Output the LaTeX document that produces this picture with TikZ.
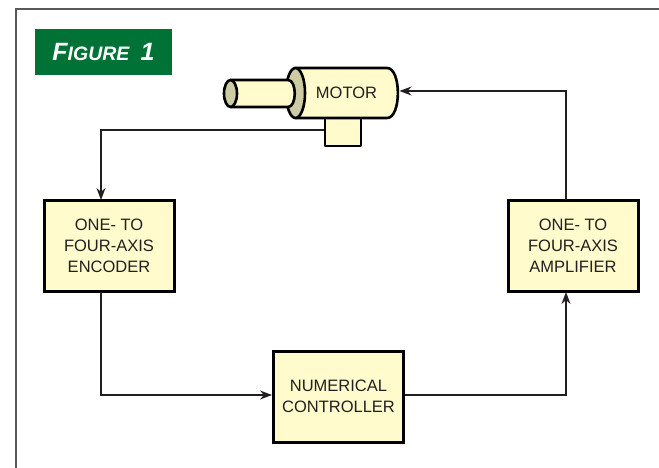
\documentclass[tikz,border=0pt]{standalone}
\usepackage{fontspec}
\setmainfont{Liberation Sans}
\usetikzlibrary{arrows.meta}
\definecolor{fillY}{HTML}{FFFBCC}
\definecolor{capC}{HTML}{CCCBA3}
\definecolor{grn}{HTML}{007236}
\definecolor{ink}{HTML}{231F20}
\tikzset{
  x=1pt,y=-1pt,
  blockbox/.style={draw=black,line width=3pt,fill=fillY,minimum width=130pt,minimum height=90pt,align=center,inner sep=0pt,font=\fontsize{16.5}{21}\selectfont,text=ink},
  part/.style={draw=black,line width=2.6pt,fill=fillY,line join=round},
  capp/.style={draw=black,line width=2.6pt,fill=capC},
  conn/.style={draw=ink,line width=1.3pt,-{Stealth[length=12pt,width=9pt]}}
}
\begin{document}
\begin{tikzpicture}
\useasboundingbox (0,0) rectangle (659,468);
\draw[line width=1.6pt,draw=black!65] (16,468) -- (16,9) -- (659,9);
\node[fill=grn,minimum width=137pt,minimum height=46pt,inner sep=0pt,text=white] (fig) at (103.5,52) {\fontsize{25}{25}\selectfont\bfseries\itshape F\fontsize{19.5}{25}\selectfont IGURE\fontsize{25}{25}\selectfont\ \,1};
% motor
\node[part,minimum width=36pt,minimum height=28pt,inner sep=0pt] (sensor) at (343,132) {};
\draw[part] (296,68) -- (387,68) .. controls (401.5,68) and (401.5,118) .. (387,118) -- (296,118) -- cycle;
\draw[capp] (295.5,93) ellipse[x radius=9.5,y radius=25];
\draw[part] (231,80) -- (288,80) .. controls (297,80) and (297,107) .. (288,107) -- (231,107) -- cycle;
\draw[capp] (230.5,93.5) ellipse[x radius=6.5,y radius=13.5];
\node[font=\fontsize{16.5}{20}\selectfont,text=ink] (motor) at (346.5,93) {MOTOR};
\coordinate (mright) at (399.5,91);
\node[blockbox] (enc) at (109,246) {ONE- TO\\FOUR-AXIS\\ENCODER};
\node[blockbox] (amp) at (573,246) {ONE- TO\\FOUR-AXIS\\AMPLIFIER};
\node[blockbox,minimum height=91pt] (nc) at (338.5,396.5) {NUMERICAL\\CONTROLLER};
\draw[conn] (sensor.west |- 0,130) -| (101,200);
\draw[conn] (101,292) |- (nc.west |- 0,395);
\draw[conn] (nc.east |- 0,395) -| (566,292);
\draw[conn] (566,200) |- (mright);
\end{tikzpicture}
\end{document}
